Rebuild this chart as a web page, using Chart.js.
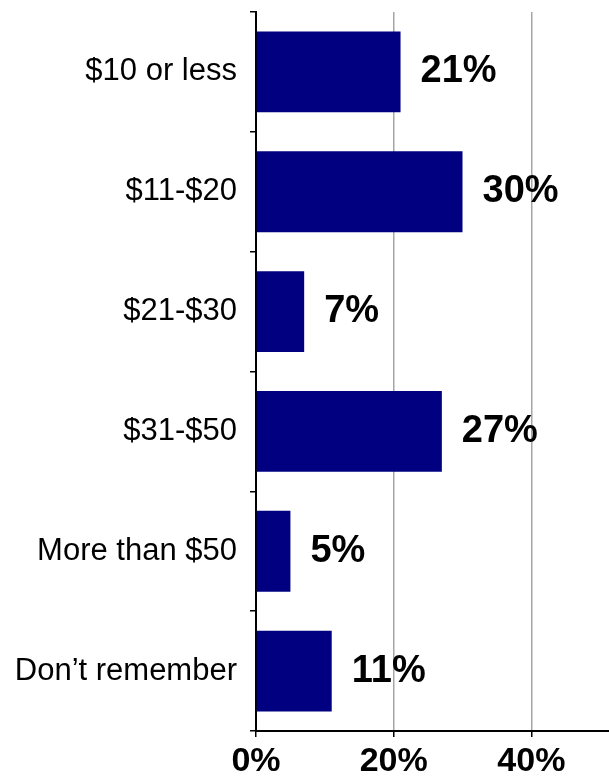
<!DOCTYPE html>
<html>
<head>
    <meta charset="UTF-8">
    <title>Amount spent</title>
    <script src="https://cdn.jsdelivr.net/npm/chart.js@4/dist/chart.umd.min.js"></script>
    <style type="text/css">
        html, body {
            margin: 0;
            padding: 0;
            background: #fff;
            overflow: hidden;
        }
        #wrap {
            width: 700px;
            height: 778px;
        }
    </style>
</head>
<body>

<div id="wrap">
    <canvas id="spendChart" width="700" height="778"></canvas>
</div>

<script>
    const categories = ['$10 or less', '$11-$20', '$21-$30', '$31-$50', 'More than $50', 'Don\u2019t remember'];
    const shares = [21, 30, 7, 27, 5, 11];

    // value labels to the right of each bar
    const barLabels = {
        id: 'barLabels',
        afterDatasetsDraw(chart) {
            const ctx = chart.ctx;
            const meta = chart.getDatasetMeta(0);
            ctx.save();
            ctx.font = 'bold 38px "Liberation Sans", Arial, sans-serif';
            ctx.fillStyle = '#000';
            ctx.textAlign = 'left';
            ctx.textBaseline = 'middle';
            meta.data.forEach(function (bar, i) {
                ctx.fillText(shares[i] + '%', bar.x + 20, bar.y);
            });
            ctx.restore();
        }
    };

    new Chart(document.getElementById('spendChart'), {
        type: 'bar',
        data: {
            labels: categories,
            datasets: [{
                data: shares,
                backgroundColor: '#000080',
                borderWidth: 0,
                barPercentage: 0.675,
                categoryPercentage: 1
            }]
        },
        plugins: [barLabels],
        options: {
            indexAxis: 'y',
            responsive: false,
            animation: false,
            layout: { padding: { top: 12, right: 31, left: 0, bottom: 0 } },
            plugins: {
                legend: { display: false },
                tooltip: { enabled: false }
            },
            scales: {
                x: {
                    min: 0,
                    max: 60,
                    ticks: {
                        stepSize: 20,
                        color: '#000',
                        padding: 4,
                        font: { family: '"Liberation Sans", Arial, sans-serif', size: 34, weight: 'bold' },
                        callback: v => v + '%'
                    },
                    grid: {
                        color: '#a6a6a6',
                        lineWidth: 1.5,
                        tickColor: '#000',
                        tickLength: 6
                    },
                    border: { color: '#000', width: 2 },
                    afterFit: s => {
                        s.height = 47;
                        s.paddingLeft = 0;
                        s.paddingRight = 0;
                    }
                },
                y: {
                    ticks: {
                        color: '#000',
                        padding: 13,
                        font: { family: '"Liberation Sans", Arial, sans-serif', size: 31 }
                    },
                    grid: {
                        offset: true,
                        drawOnChartArea: false,
                        color: '#000',
                        lineWidth: 1.5,
                        tickLength: 6
                    },
                    border: { color: '#000', width: 2 },
                    afterFit: s => {
                        s.width = 256;
                        s.paddingTop = 0;
                        s.paddingBottom = 0;
                    }
                }
            }
        }
    });
</script>
</body>
</html>
